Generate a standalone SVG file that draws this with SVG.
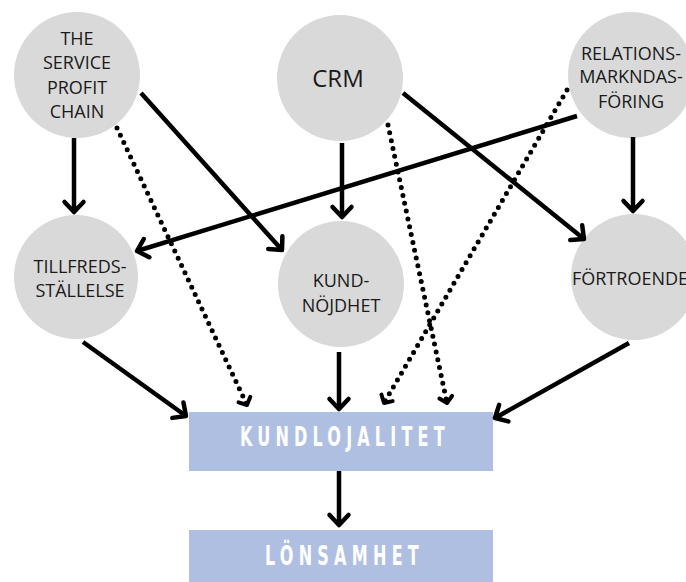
<svg xmlns="http://www.w3.org/2000/svg" width="686" height="582" viewBox="0 0 686 582">
  <style>
    .node circle { fill: #d9d9d9; }
    .lbl { font-family: "Open Sans", "Noto Sans", sans-serif; font-size: 18px; fill: #1a1a1a; text-anchor: middle; }
    .box rect { fill: #afbfe2; }
    .boxlbl { font-family: "DejaVu Sans Condensed", "Liberation Sans Narrow", "Roboto", sans-serif; font-weight: bold; font-size: 27px; fill: #ffffff; }
    .solid { stroke: #000; stroke-width: 4.5; fill: none; marker-end: url(#head); }
    .dotted { stroke: #000; stroke-width: 5; fill: none; stroke-linecap: round; stroke-dasharray: 0 8; marker-end: url(#dothead); }
  </style>
  <defs>
    <marker id="head" markerUnits="userSpaceOnUse" viewBox="-14 -12 18 24" refX="0" refY="0" markerWidth="18" markerHeight="24" orient="auto" overflow="visible">
      <path d="M -10 -9.5 L 0 0 L -10 9.5" fill="none" stroke="#000" stroke-width="4.5" stroke-linejoin="round" stroke-linecap="round"/>
    </marker>
    <marker id="dothead" markerUnits="userSpaceOnUse" viewBox="-10 -10 12 20" refX="0" refY="0" markerWidth="12" markerHeight="20" orient="auto" overflow="visible">
      <path d="M -6 -6.5 L 0 0 L -6 6.5" fill="none" stroke="#000" stroke-width="4" stroke-linejoin="round" stroke-linecap="round"/>
    </marker>
  </defs>

  <!-- nodes -->
  <g id="service-profit-chain" class="node">
    <circle cx="77" cy="75" r="63"/>
    <text class="lbl" x="77" y="45">THE</text>
    <text class="lbl" x="77" y="69">SERVICE</text>
    <text class="lbl" x="77" y="94">PROFIT</text>
    <text class="lbl" x="77" y="118">CHAIN</text>
  </g>
  <g id="crm" class="node">
    <circle cx="340" cy="78" r="63"/>
    <text class="lbl" x="338" y="87" style="font-size:24px">CRM</text>
  </g>
  <g id="relationsmarknadsforing" class="node">
    <circle cx="631" cy="75" r="63"/>
    <text class="lbl" x="631" y="60">RELATIONS-</text>
    <text class="lbl" x="631" y="83">MARKNDAS-</text>
    <text class="lbl" x="631" y="108">FÖRING</text>
  </g>
  <g id="tillfredsstallelse" class="node">
    <circle cx="76" cy="277" r="62"/>
    <text class="lbl" x="80" y="273">TILLFREDS-</text>
    <text class="lbl" x="80" y="297">STÄLLELSE</text>
  </g>
  <g id="kundnojdhet" class="node">
    <circle cx="341" cy="284" r="63"/>
    <text class="lbl" x="341" y="287">KUND-</text>
    <text class="lbl" x="341" y="312">NÖJDHET</text>
  </g>
  <g id="fortroende" class="node">
    <circle cx="634" cy="277" r="63"/>
    <text class="lbl" x="630" y="285">FÖRTROENDE</text>
  </g>
  <!-- condensed, widely tracked box labels -->
  <g id="kundlojalitet" class="box">
    <rect x="189" y="412" width="304" height="59"/>
    <text class="boxlbl" transform="translate(240 446) scale(0.66 1)" x="0" y="0" textLength="310" lengthAdjust="spacing">KUNDLOJALITET</text>
  </g>
  <g id="lonsamhet" class="box">
    <rect x="189" y="530" width="304" height="60"/>
    <text class="boxlbl" transform="translate(265 565) scale(0.66 1)" x="0" y="0" textLength="233" lengthAdjust="spacing">LÖNSAMHET</text>
  </g>

  <!-- connectors -->
  <g id="connectors">
    <line class="solid" x1="74" y1="138" x2="74" y2="212"/>
    <line class="solid" x1="141" y1="93" x2="282" y2="250"/>
    <line class="dotted" x1="117" y1="128" x2="247" y2="405"/>
    <line class="solid" x1="342" y1="143" x2="342" y2="217"/>
    <line class="solid" x1="403" y1="93" x2="584" y2="239"/>
    <line class="dotted" x1="388" y1="125" x2="447" y2="403"/>
    <line class="solid" x1="633" y1="137" x2="633" y2="211"/>
    <line class="solid" x1="577" y1="116" x2="137" y2="251"/>
    <line class="dotted" x1="567" y1="90" x2="384" y2="403"/>
    <line class="solid" x1="83" y1="342" x2="186" y2="416"/>
    <line class="solid" x1="339" y1="352" x2="339" y2="409"/>
    <line class="solid" x1="629" y1="343" x2="495" y2="418"/>
    <line class="solid" x1="339" y1="471" x2="339" y2="525"/>
  </g>
</svg>
